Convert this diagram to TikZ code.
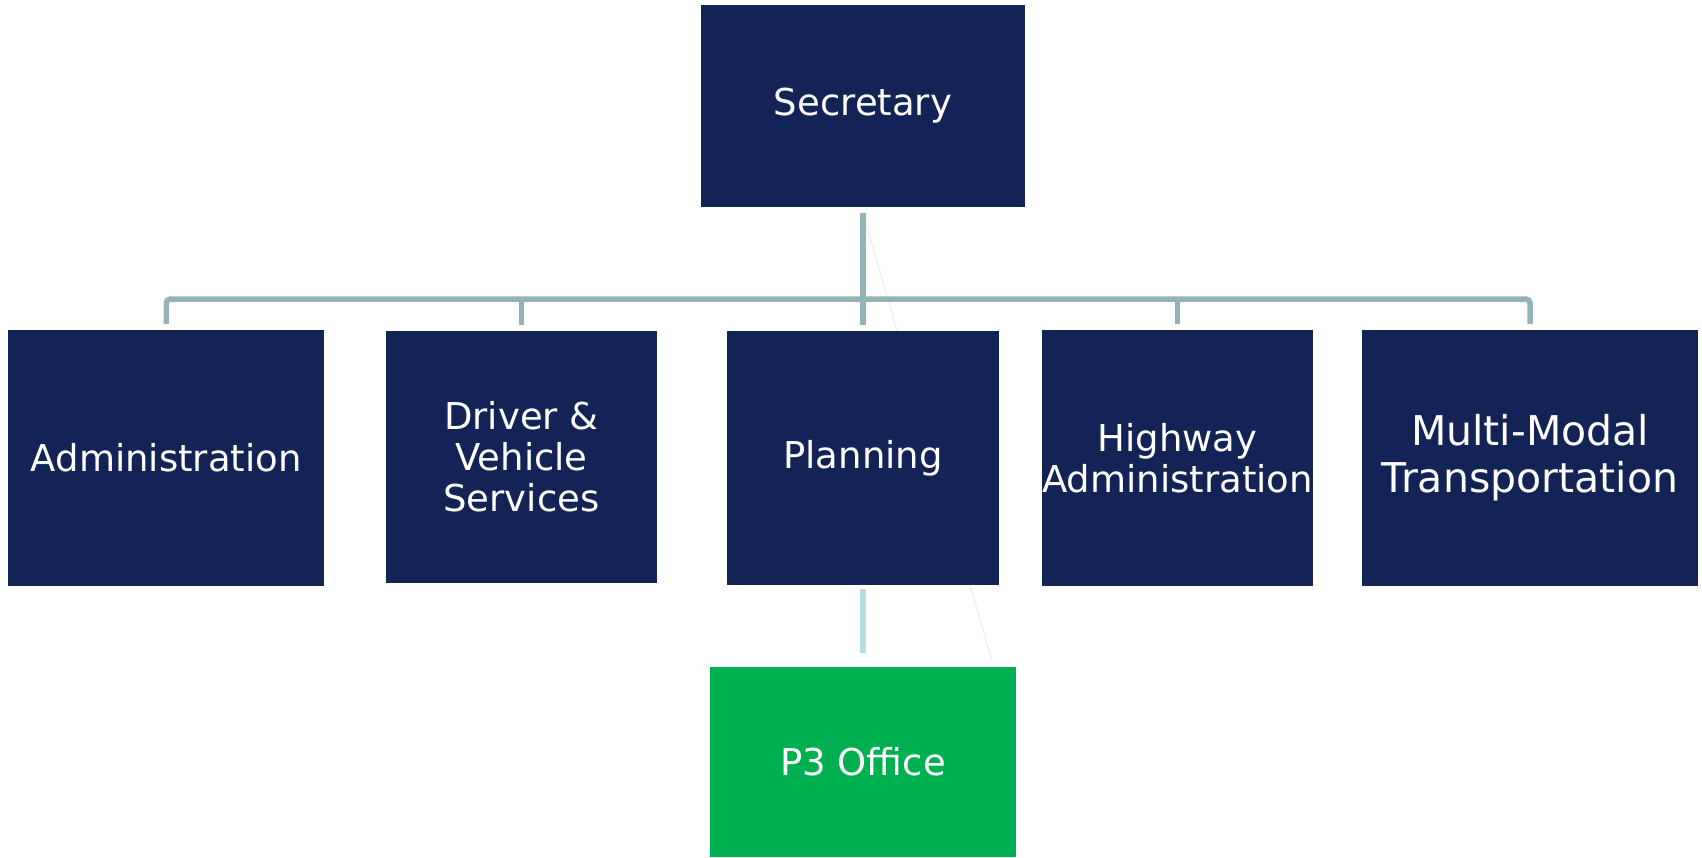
\documentclass[tikz,border=0pt]{standalone}
\usepackage{fontspec}
\setmainfont{DejaVu Sans}
\usetikzlibrary{backgrounds}
\definecolor{navy}{RGB}{20,35,85}
\definecolor{officegreen}{RGB}{0,176,80}
\definecolor{linkgray}{RGB}{149,179,181}
\definecolor{linkpale}{RGB}{183,222,226}

\begin{document}
\begin{tikzpicture}[x=1pt, y=-1pt,
    unit/.style ={rectangle, fill=navy, text=white, inner sep=0pt, outer sep=0pt,
                  align=center, font=\fontsize{37}{41}\selectfont},
    office/.style ={unit, fill=officegreen},
    link/.style ={draw=linkgray, line width=5.5pt},
    sublink/.style ={draw=linkpale, line width=6pt},
    faint/.style ={draw=black!6, line width=1.5pt}]
   \useasboundingbox (0,0) rectangle (1702,857);
   \node[unit, minimum width=324pt, minimum height=202pt] (sec) at (863,106) {Secretary};
   \node[unit, minimum width=316pt, minimum height=256pt] (adm) at (166.3,458) {Administration};
   \node[unit, minimum width=271pt, minimum height=252pt] (dvs) at (521.5,457) {Driver \&\\Vehicle\\Services};
   \node[unit, minimum width=272pt, minimum height=254pt] (pln) at (863,458) {Planning};
   \node[unit, minimum width=271pt, minimum height=256pt] (hwy) at (1177.5,458) {Highway\\Administration};
   \node[unit, minimum width=336pt, minimum height=256pt,
         font=\fontsize{41}{47}\selectfont] (mmt) at (1530,458) {Multi-Modal\\Transportation};
   \node[office, minimum width=306pt, minimum height=190pt] (p3) at (863,762) {P3 Office};
   \coordinate (bar) at (863,299);
   \begin{pgfonlayer}{background}
   \draw[faint] ([yshift=-6pt]sec.south) to ([xshift=129pt,yshift=6pt]p3.north);
   \end{pgfonlayer}
   \draw[link] ([yshift=-6pt]sec.south) to ([yshift=6pt]pln.north);
   \draw[link, rounded corners=4pt] ([yshift=6pt]adm.north) -- (adm.north |- bar)
        -- (mmt.north |- bar) -- ([yshift=6pt]mmt.north);
   \draw[link] (dvs.north |- bar) to ([yshift=6pt]dvs.north);
   \draw[link] (hwy.north |- bar) to ([yshift=6pt]hwy.north);
   \draw[sublink] ([yshift=-4pt]pln.south) to ([yshift=14pt]p3.north);
 \end{tikzpicture}
\end{document}
